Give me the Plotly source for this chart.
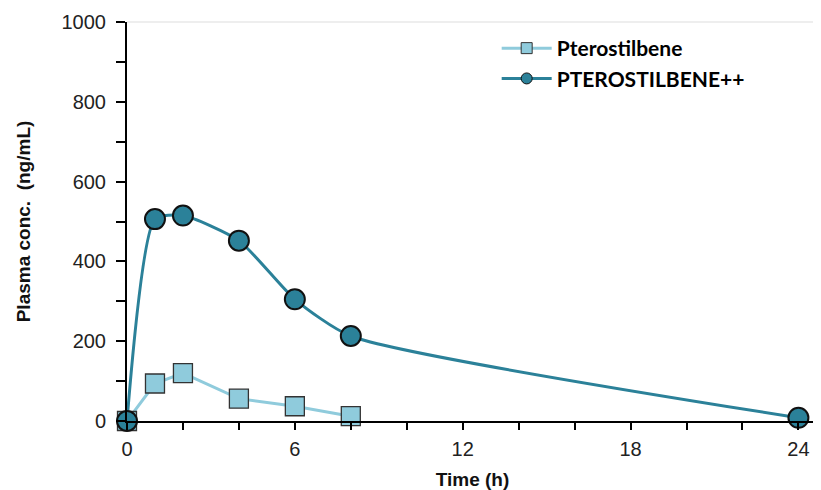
import plotly.graph_objects as go

time_h = [0, 1, 2, 4, 6, 8]
pterostilbene = [0, 94, 120, 56, 37, 12]
time_h_pp = [0, 1, 2, 4, 6, 8, 24]
pterostilbene_pp = [0, 506, 515, 452, 305, 213, 8]

x_ticks = [0, 6, 12, 18, 24]
y_ticks = [0, 200, 400, 600, 800, 1000]

dark = "#2b8199"
light = "#8fcbdc"

fig = go.Figure()
fig.add_trace(go.Scatter(
    x=time_h, y=pterostilbene, name="Pterostilbene", mode="lines+markers",
    line=dict(color=light, width=3), showlegend=False,
    marker=dict(symbol="square", size=19, color=light, line=dict(color="#333", width=1.3)),
    cliponaxis=False))
fig.add_trace(go.Scatter(
    x=time_h_pp, y=pterostilbene_pp, name="PTEROSTILBENE++", mode="lines+markers",
    line=dict(color=dark, width=3, shape="spline", smoothing=0.6), showlegend=False,
    marker=dict(symbol="circle", size=20, color=dark, line=dict(color="#111", width=2)),
    cliponaxis=False))
# legend entries with smaller symbols, as in the reference legend
fig.add_trace(go.Scatter(
    x=[None], y=[None], name="Pterostilbene", mode="lines+markers",
    line=dict(color=light, width=3),
    marker=dict(symbol="square", size=11, color=light, line=dict(color="#333", width=1))))
fig.add_trace(go.Scatter(
    x=[None], y=[None], name="PTEROSTILBENE++", mode="lines+markers",
    line=dict(color=dark, width=3),
    marker=dict(symbol="circle", size=11, color=dark, line=dict(color="#111", width=1))))

fig.add_shape(type="line", xref="paper", yref="paper", x0=0, x1=1, y0=1, y1=1,
              line=dict(color="#dddddd", width=1))

fig.update_layout(
    width=813, height=482,
    margin=dict(l=119, r=3, t=12, b=67),
    plot_bgcolor="white", paper_bgcolor="white",
    font=dict(family="Arial, 'Liberation Sans', sans-serif", color="#222"),
    showlegend=True,
    legend=dict(x=0.535, y=0.985, xanchor="left", yanchor="top",
                font=dict(family="Lato", size=21, color="black", weight="bold"),
                itemwidth=50, tracegroupgap=0, bgcolor="rgba(0,0,0,0)"),
    xaxis=dict(range=[0, 24.7], tickvals=x_ticks, ticktext=[str(v) for v in x_ticks],
               ticks="outside", ticklen=7, tickwidth=1.5, tickcolor="black",
               showline=True, linecolor="black", linewidth=2, showgrid=False, zeroline=False,
               tickfont=dict(size=20), ticklabelstandoff=2,
               minor=dict(dtick=2, tick0=0, ticks="outside", ticklen=7, tickwidth=1.5, tickcolor="black", showgrid=False),
               title=dict(text="<b>Time (h)</b>", font=dict(size=19, color="#111"), standoff=14)),
    yaxis=dict(range=[0, 1000], tickvals=y_ticks, ticktext=[str(v) for v in y_ticks],
               ticks="outside", ticklen=9, tickwidth=1.5, tickcolor="black",
               showline=True, linecolor="black", linewidth=2, showgrid=False, zeroline=False,
               tickfont=dict(size=20), ticklabelstandoff=6,
               minor=dict(dtick=100, tick0=0, ticks="outside", ticklen=9, tickwidth=1.5, tickcolor="black", showgrid=False),
               title=dict(text="<b>Plasma conc.  (ng/mL)</b>", font=dict(size=19, color="#111"), standoff=26)),
)

fig.write_html("out.html")
